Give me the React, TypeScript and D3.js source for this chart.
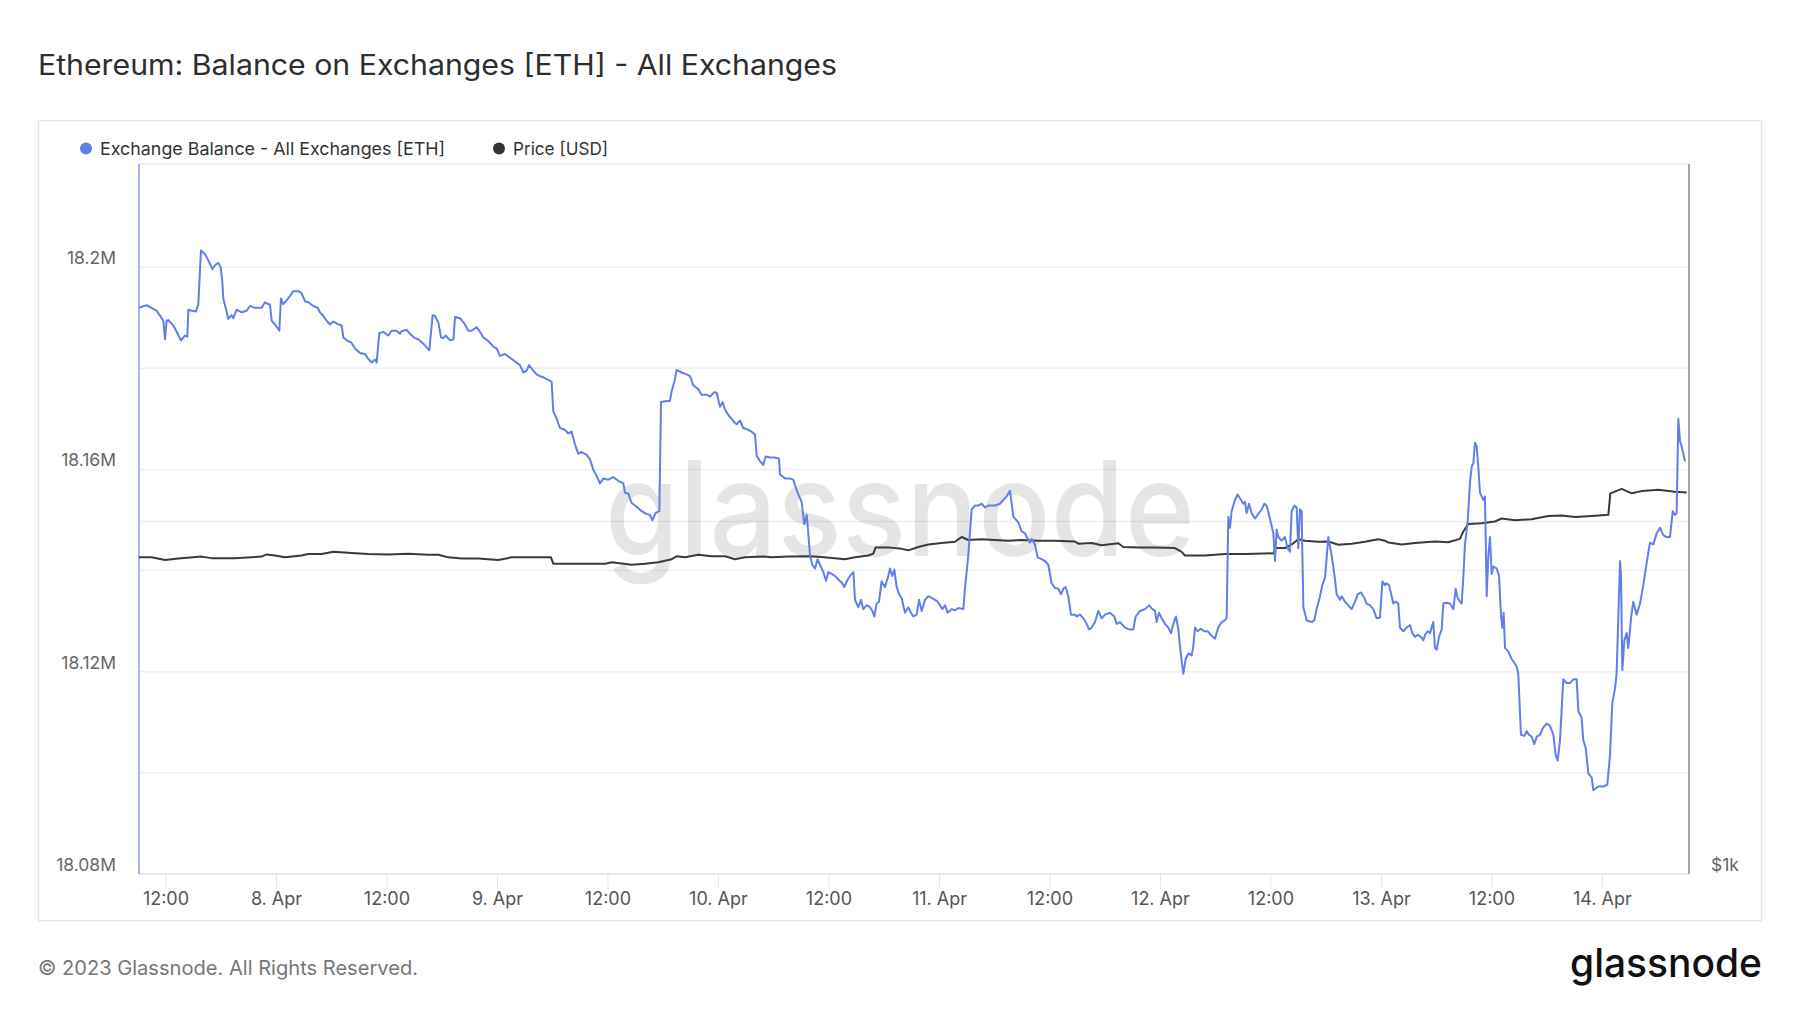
import React from "react";
import * as d3 from "d3";

const W = 1800;
const H = 1013;
const BASE = Date.UTC(2023, 3, 7); // 7 Apr 2023 00:00 UTC

// [hours since 7 Apr 00:00 UTC, exchange balance in thousand ETH]
const balance: [number, number][] = [
  [9.07, 18191.96], [9.9, 18192.47], [10.44, 18191.96], [10.99, 18191.37], [11.46, 18190.13], [11.71, 18189.4],
  [11.89, 18185.75], [12.07, 18189.4], [12.25, 18189.55], [12.8, 18188.45], [13.16, 18187.21], [13.63, 18185.53],
  [14.06, 18186.48], [14.32, 18186.26], [14.43, 18191.59], [14.79, 18191.37], [15.26, 18191.23], [15.51, 18192.69],
  [15.8, 18203.29], [16.24, 18202.56], [16.67, 18201.1], [17.03, 18199.63], [17.32, 18200.36], [17.68, 18200.88],
  [17.94, 18200.0], [18.12, 18197.08], [18.23, 18193.79], [18.48, 18191.96], [18.77, 18189.77], [19.13, 18190.5],
  [19.31, 18189.91], [19.67, 18191.59], [20.22, 18191.08], [20.76, 18191.37], [21.12, 18192.32], [21.67, 18191.96],
  [22.39, 18191.96], [22.75, 18193.06], [23.11, 18192.69], [23.29, 18192.69], [23.48, 18189.4], [23.84, 18188.67],
  [24.31, 18187.43], [24.49, 18193.79], [24.74, 18192.69], [25.1, 18193.42], [25.47, 18194.3], [25.83, 18195.25],
  [26.37, 18195.25], [26.73, 18194.88], [27.1, 18193.27], [27.46, 18193.06], [28.0, 18192.32], [28.47, 18191.96],
  [28.72, 18191.08], [29.09, 18190.35], [29.45, 18189.4], [29.81, 18188.67], [30.17, 18189.25], [30.72, 18188.67],
  [31.08, 18188.45], [31.26, 18186.11], [31.62, 18185.53], [32.16, 18185.01], [32.53, 18183.92], [33.07, 18183.04],
  [33.61, 18182.82], [33.97, 18181.87], [34.34, 18181.14], [34.7, 18181.72], [34.88, 18181.14], [35.17, 18186.99],
  [35.6, 18187.21], [36.15, 18186.48], [36.51, 18187.43], [37.05, 18187.43], [37.41, 18186.84], [37.59, 18187.35],
  [38.14, 18187.57], [38.5, 18186.84], [39.04, 18185.96], [39.4, 18185.75], [39.95, 18184.87], [40.6, 18183.55],
  [40.96, 18190.5], [41.21, 18190.35], [41.58, 18189.03], [41.87, 18186.11], [42.12, 18185.96], [42.37, 18186.48],
  [42.84, 18185.53], [43.21, 18185.67],
  [43.39, 18190.13], [43.93, 18189.91], [44.47, 18188.67], [44.83, 18187.43], [45.2, 18187.43], [45.74, 18188.16],
  [46.1, 18187.21], [46.46, 18186.11], [47.01, 18185.38], [47.55, 18184.28], [47.91, 18183.92], [48.27, 18182.46],
  [48.82, 18182.82], [49.36, 18182.09], [49.9, 18181.36], [50.44, 18180.63], [50.81, 18179.17], [51.17, 18179.53],
  [51.42, 18180.63], [51.89, 18179.53], [52.25, 18178.8], [52.62, 18178.44], [52.98, 18178.22], [53.52, 18177.7],
  [53.88, 18177.34], [54.06, 18171.49], [54.43, 18170.03], [54.79, 18168.2], [55.33, 18167.84], [55.69, 18167.11],
  [56.06, 18167.47], [56.42, 18164.91], [56.78, 18163.09], [57.14, 18163.45], [57.68, 18162.86], [58.05, 18161.99],
  [58.41, 18159.94], [58.77, 18158.7], [59.13, 18157.24], [59.49, 18158.19], [60.04, 18157.97], [60.58, 18158.48],
  [61.12, 18157.75], [61.67, 18157.24], [61.85, 18155.41], [62.21, 18155.26], [62.57, 18153.36], [63.11, 18152.63],
  [63.66, 18151.75], [64.2, 18151.17], [64.56, 18151.02], [64.82, 18149.93], [65.18, 18151.39], [65.58, 18151.75],
  [65.76, 18173.32], [66.37, 18173.54], [66.73, 18173.54], [66.92, 18175.51], [67.21, 18177.34], [67.46, 18179.68],
  [68.0, 18179.17], [68.54, 18178.8], [68.91, 18178.44], [69.27, 18176.61], [69.81, 18175.88], [70.17, 18174.78],
  [70.72, 18174.78], [71.08, 18174.41], [71.55, 18175.29], [71.8, 18175.15], [72.16, 18172.37], [72.45, 18173.32],
  [72.71, 18171.86], [73.07, 18170.76], [73.43, 18170.03], [73.72, 18169.3], [73.98, 18168.93], [74.34, 18169.66],
  [74.7, 18168.2], [75.24, 18167.84], [75.6, 18167.47], [75.97, 18166.89], [76.15, 18162.72], [76.51, 18161.62],
  [76.87, 18160.89],
  [77.12, 18162.57], [77.6, 18162.35], [78.14, 18162.35], [78.57, 18162.13], [78.68, 18159.06], [79.22, 18158.19],
  [79.77, 18158.19], [80.13, 18157.97], [80.38, 18156.5], [80.67, 18155.04], [81.03, 18153.58], [81.32, 18149.2],
  [81.58, 18151.02], [81.69, 18148.83], [81.94, 18142.98], [82.19, 18141.15], [82.48, 18140.42], [82.77, 18142.25],
  [83.03, 18141.15], [83.39, 18139.69], [83.68, 18137.99], [83.93, 18139.69], [84.29, 18139.33], [84.65, 18138.96],
  [85.02, 18138.23], [85.45, 18137.5], [85.67, 18136.77], [86.03, 18138.23], [86.39, 18139.18], [86.65, 18139.69],
  [86.83, 18134.21], [87.19, 18132.75], [87.48, 18134.21], [87.73, 18132.38], [88.09, 18133.12], [88.46, 18132.75],
  [88.71, 18132.02], [88.93, 18130.92], [89.18, 18133.48], [89.43, 18133.85], [89.72, 18137.86], [90.08, 18136.77],
  [90.45, 18138.96], [90.63, 18140.42], [90.88, 18138.96], [91.1, 18140.2], [91.35, 18136.77], [91.61, 18135.31],
  [91.89, 18134.58], [92.26, 18131.65], [92.62, 18132.75], [92.8, 18132.02], [93.16, 18130.92], [93.52, 18131.29],
  [93.78, 18134.21], [94.07, 18132.02], [94.43, 18134.21], [94.79, 18134.94], [95.15, 18134.58], [95.51, 18134.21],
  [95.8, 18133.85], [96.06, 18133.12], [96.31, 18132.38], [96.6, 18133.12], [96.89, 18131.65], [97.32, 18132.38],
  [97.69, 18132.16], [98.05, 18132.6], [98.59, 18132.38], [98.77, 18136.4], [99.13, 18142.98], [99.5, 18152.12],
  [99.86, 18152.85], [100.22, 18152.85], [100.58, 18153.22], [100.94, 18152.49], [101.31, 18152.85], [101.67, 18152.85],
  [102.03, 18152.85], [102.57, 18153.22], [102.94, 18153.95], [103.3, 18154.68], [103.66, 18155.77], [103.84, 18153.22],
  [104.02, 18150.66], [104.56, 18149.56], [104.93, 18147.73], [105.29, 18147.37], [105.47, 18146.64], [105.83, 18145.54],
  [106.01, 18146.27], [106.37, 18145.18], [106.66, 18142.62], [107.1, 18142.25], [107.46, 18141.89], [107.82, 18141.15],
  [108.18, 18137.5], [108.55, 18136.55], [108.91, 18136.4], [109.2, 18135.31], [109.45, 18136.4], [109.71, 18136.77],
  [109.99, 18134.94], [110.28, 18131.29], [110.72, 18131.29],
  [110.9, 18130.92], [111.26, 18131.29], [111.62, 18130.56], [111.99, 18129.46], [112.24, 18128.36], [112.53, 18128.73],
  [112.89, 18129.82], [113.25, 18132.02], [113.61, 18130.56], [113.98, 18131.29], [114.52, 18131.65], [114.99, 18130.92],
  [115.24, 18129.46], [115.61, 18129.82], [116.15, 18128.73], [116.58, 18128.36], [117.05, 18128.36], [117.31, 18130.92],
  [117.78, 18132.02], [118.32, 18132.38], [118.76, 18133.12], [119.12, 18132.38], [119.41, 18132.02], [119.59, 18129.82],
  [119.84, 18131.65], [120.13, 18130.56], [120.49, 18129.46], [120.85, 18128.73], [121.14, 18127.63], [121.4, 18129.46],
  [121.69, 18130.92], [121.94, 18128.36], [122.23, 18123.24], [122.48, 18119.59], [122.74, 18122.51], [123.03, 18123.61],
  [123.39, 18123.24], [123.57, 18125.07], [123.75, 18128.73], [124.04, 18128.0], [124.4, 18128.51], [124.76, 18128.0],
  [125.13, 18128.0], [125.49, 18127.27], [125.92, 18126.54], [126.28, 18128.73], [126.65, 18129.82], [127.01, 18130.19],
  [127.19, 18130.56], [127.37, 18150.66], [127.55, 18148.46], [127.73, 18151.75], [128.09, 18153.95], [128.38, 18155.04],
  [128.64, 18154.31], [129.0, 18153.22], [129.18, 18153.58], [129.36, 18151.39], [129.62, 18153.22], [129.9, 18151.39],
  [130.27, 18150.29], [130.56, 18151.02], [130.99, 18152.12], [131.28, 18153.22], [131.53, 18152.85], [131.79, 18151.02],
  [132.08, 18148.83], [132.26, 18147.37], [132.44, 18141.89], [132.62, 18148.1], [132.8, 18146.64], [133.16, 18145.91],
  [133.52, 18146.64], [133.81, 18144.44], [134.07, 18143.71], [134.25, 18151.75], [134.54, 18152.85], [134.79, 18152.49],
  [134.97, 18144.44], [135.15, 18152.12], [135.33, 18151.75], [135.52, 18132.75], [135.88, 18130.19], [136.42, 18129.82],
  [136.71, 18130.19], [136.96, 18132.38], [137.33, 18134.94], [137.58, 18137.13], [137.87, 18138.59], [138.23, 18146.64],
  [138.59, 18142.98], [138.88, 18139.33], [139.14, 18135.31], [139.5, 18134.21], [139.68, 18134.94], [140.04, 18133.85],
  [140.4, 18133.12], [140.77, 18132.38], [141.13, 18133.85], [141.42, 18135.31], [141.78, 18135.67], [142.14, 18134.58],
  [142.39, 18133.48], [142.76, 18133.12], [143.12, 18132.38], [143.48, 18130.56], [143.84, 18130.7], [144.1, 18137.86],
  [144.38, 18137.13],
  [144.57, 18137.5], [144.82, 18137.13], [145.11, 18134.94], [145.29, 18133.48], [145.54, 18133.85], [145.83, 18133.48],
  [146.01, 18128.73], [146.38, 18128.0], [146.74, 18128.73], [147.1, 18129.24], [147.35, 18127.63], [147.64, 18126.9],
  [147.93, 18127.27], [148.29, 18126.9], [148.55, 18126.17], [148.73, 18127.27], [149.02, 18128.0], [149.27, 18127.63],
  [149.63, 18129.82], [149.81, 18124.71], [150.0, 18124.34], [150.25, 18126.9], [150.54, 18128.36], [150.72, 18133.48],
  [151.08, 18133.63], [151.44, 18133.48], [151.81, 18132.38], [152.06, 18136.4], [152.28, 18134.58], [152.53, 18133.85],
  [152.71, 18133.48], [152.89, 18138.59], [153.07, 18145.18], [153.36, 18149.56], [153.62, 18157.6], [153.8, 18160.53],
  [153.98, 18161.26], [154.16, 18165.28], [154.34, 18164.55], [154.52, 18160.53], [154.7, 18155.41], [155.06, 18153.95],
  [155.24, 18154.68], [155.43, 18134.94], [155.61, 18142.98], [155.79, 18146.64], [155.97, 18139.33], [156.15, 18140.79],
  [156.51, 18140.42], [156.77, 18138.96], [156.98, 18131.29], [157.13, 18128.73], [157.27, 18131.65], [157.42, 18124.71],
  [157.78, 18123.97], [158.14, 18122.51], [158.43, 18121.78], [158.68, 18121.05], [158.86, 18119.59], [159.15, 18107.53],
  [159.52, 18107.31], [159.77, 18108.26], [160.02, 18107.53], [160.31, 18107.16], [160.6, 18105.7], [160.86, 18107.16],
  [161.22, 18107.53], [161.58, 18108.99], [161.94, 18109.72], [162.3, 18109.36], [162.67, 18107.53], [162.92, 18103.51],
  [163.14, 18102.41], [163.39, 18106.43], [163.75, 18118.49], [164.11, 18117.76], [164.48, 18117.76], [164.84, 18118.49],
  [165.2, 18118.49], [165.38, 18112.28], [165.74, 18110.82], [165.92, 18106.43], [166.18, 18104.97], [166.47, 18099.85],
  [166.83, 18099.12], [167.01, 18096.57], [167.55, 18097.3], [168.1, 18097.3], [168.53, 18097.66], [168.82, 18103.51],
  [169.07, 18113.74], [169.36, 18116.67], [169.54, 18119.59], [169.72, 18130.56], [169.91, 18141.89], [170.01, 18139.33],
  [170.16, 18120.32], [170.38, 18126.17], [170.63, 18127.63], [170.81, 18124.71], [171.1, 18130.56], [171.35, 18133.85],
  [171.72, 18131.29], [172.08, 18133.48], [172.44, 18137.13], [172.8, 18141.52], [173.16, 18145.54], [173.53, 18145.18],
  [173.89, 18147.37], [174.25, 18148.46], [174.61, 18147.0], [174.97, 18146.64], [175.34, 18146.64], [175.63, 18151.75],
  [175.88, 18151.02], [176.06, 18151.39], [176.24, 18170.03], [176.42, 18165.64], [176.6, 18164.55], [176.97, 18161.62],
];

// [hours since 7 Apr 00:00 UTC, price in USD]
const price: [number, number][] = [
  [9.07, 1898.2], [10.44, 1898.2], [11.89, 1890.8], [13.34, 1895.0], [15.87, 1900.3], [16.96, 1896.0],
  [19.49, 1896.0], [22.39, 1900.3], [22.93, 1906.6], [23.84, 1903.4], [24.92, 1898.2], [26.73, 1903.4],
  [27.46, 1907.6], [28.91, 1907.6], [30.17, 1913.9], [32.16, 1910.8], [33.97, 1907.6], [36.15, 1906.6],
  [38.32, 1908.7], [40.49, 1905.5], [41.58, 1905.5], [42.66, 1898.2],
  [44.11, 1895.0], [45.92, 1895.0], [48.09, 1890.8], [49.54, 1898.2], [51.71, 1898.2], [53.81, 1898.2],
  [54.06, 1880.3], [56.78, 1880.3], [59.68, 1880.3], [60.4, 1884.5], [62.57, 1877.2], [64.02, 1880.3],
  [65.47, 1884.5], [66.92, 1892.9], [67.46, 1901.3], [68.36, 1898.2], [69.81, 1905.5], [71.26, 1901.3],
  [72.71, 1901.3], [73.79, 1892.9], [74.88, 1898.2], [76.87, 1900.3],
  [77.78, 1898.2], [79.59, 1900.3], [81.76, 1901.3], [83.21, 1899.2], [85.74, 1892.9], [86.83, 1898.2],
  [88.27, 1903.4], [88.82, 1908.7], [89.07, 1926.5], [90.45, 1926.5], [91.89, 1922.3], [92.62, 1918.1],
  [93.7, 1927.6], [94.79, 1934.9], [96.24, 1939.1], [97.69, 1942.3], [98.41, 1955.9], [99.13, 1947.5],
  [100.58, 1949.6], [102.03, 1947.5], [103.48, 1945.4], [104.93, 1947.5], [106.74, 1945.4], [108.55, 1945.4],
  [110.72, 1943.3],
  [111.08, 1937.0], [112.53, 1939.1], [113.61, 1932.8], [115.42, 1938.1], [115.97, 1927.6], [117.6, 1926.5],
  [119.41, 1926.5], [121.58, 1924.4], [122.3, 1913.9], [122.66, 1903.4], [124.84, 1903.4], [127.01, 1907.6],
  [129.18, 1907.6], [132.26, 1909.7], [132.51, 1924.4], [133.52, 1924.4], [134.25, 1934.9], [134.97, 1949.6],
  [135.7, 1945.4], [137.15, 1942.3], [138.23, 1943.3], [139.32, 1933.9], [140.77, 1937.0], [142.21, 1942.3],
  [143.66, 1949.6], [144.38, 1945.4],
  [144.75, 1940.2], [146.19, 1934.9], [147.64, 1939.1], [149.81, 1943.3], [151.26, 1941.2], [152.53, 1950.7],
  [152.89, 1971.7], [153.43, 1992.7], [154.88, 1994.8], [156.33, 2000.0], [157.05, 2008.4], [158.5, 2003.2],
  [160.31, 2006.3], [162.12, 2015.8], [163.57, 2016.8], [165.02, 2012.6], [166.83, 2015.8], [168.64, 2018.9],
  [168.86, 2079.8], [170.09, 2092.4], [171.17, 2079.8], [172.26, 2086.1], [174.07, 2090.3], [175.88, 2084.0],
  [177.15, 2081.9],
];

const xDomainHours = [9.07, 177.4];
const balanceDomain = [18080, 18220.4];
const priceDomain = [1000, 3014];
const balanceGrid = [18100, 18120, 18140, 18160, 18180, 18200];
const balanceLabels = [18080, 18120, 18160, 18200];
const priceGrid = [2000];
const priceLabels = [1000];

const TITLE = "Ethereum: Balance on Exchanges [ETH] - All Exchanges";
const legendItems = [
  { label: "Exchange Balance - All Exchanges [ETH]", color: "#627eea", width: 345 },
  { label: "Price [USD]", color: "#333333", width: 95 },
];

const FONT = "Inter, 'Noto Sans', sans-serif";

export default function App() {
  const plot = { left: 139, right: 1689, top: 164, bottom: 874 };
  const t = (h: number) => new Date(BASE + h * 3600e3);
  const x = d3.scaleUtc().domain(xDomainHours.map(t)).range([plot.left, plot.right]);
  const yB = d3.scaleLinear().domain(balanceDomain).range([plot.bottom, plot.top]);
  const yP = d3.scaleLinear().domain(priceDomain).range([plot.bottom, plot.top]);
  const ticks = x.ticks(d3.utcHour.every(12) as any);
  const fmtDay = d3.utcFormat("%-d. %b");
  const fmtHour = d3.utcFormat("%H:%M");
  const fmt = (d: Date) => (d.getUTCHours() === 0 ? fmtDay(d) : fmtHour(d));
  const fmtB = (v: number) => `${d3.format(".4~f")(v / 1000)}M`;
  const fmtP = (v: number) => `$${v / 1000}k`;

  const lineB = d3.line<[number, number]>().x((d) => x(t(d[0]))).y((d) => yB(d[1]));
  const lineP = d3.line<[number, number]>().x((d) => x(t(d[0]))).y((d) => yP(d[1]));

  const legendX = [86, 499];

  return (
    <div style={{ position: "absolute", left: 0, top: 0, width: W, height: H, background: "#fff" }}>
      <svg width={W} height={H} viewBox={`0 0 ${W} ${H}`} style={{ display: "block", fontFamily: FONT }}>
        <rect x={0} y={0} width={W} height={H} fill="#ffffff" />
        <text x={38} y={75} fontSize={28} fontWeight={400} fill="#2e2e2e" textLength={799} lengthAdjust="spacingAndGlyphs">
          {TITLE}
        </text>
        <rect x={38.5} y={120.5} width={1723} height={800} fill="none" stroke="#e6e6e6" strokeWidth={1.5} />

        {legendItems.map((it, i) => (
          <g key={it.label}>
            <circle cx={legendX[i]} cy={148.5} r={6} fill={it.color} />
            <text x={legendX[i] + 14} y={154.5} fontSize={17.5} fill="#333333" textLength={it.width} lengthAdjust="spacingAndGlyphs">
              {it.label}
            </text>
          </g>
        ))}

        {/* grid */}
        {balanceGrid.map((v) => (
          <line key={v} x1={plot.left} x2={plot.right} y1={yB(v)} y2={yB(v)} stroke="#f0f0f0" strokeWidth={1.5} />
        ))}
        {priceGrid.map((v) => (
          <line key={"p" + v} x1={plot.left} x2={plot.right} y1={yP(v)} y2={yP(v)} stroke="#f0f0f0" strokeWidth={1.5} />
        ))}
        <line x1={plot.left} x2={plot.right} y1={plot.top} y2={plot.top} stroke="#e8e8e8" strokeWidth={1.5} />

        {/* watermark */}
        <text x={900} y={556} fontSize={132} fontWeight={500} fill="#000" fillOpacity={0.1} textAnchor="middle" textLength={590} lengthAdjust="spacingAndGlyphs">
          glassnode
        </text>

        {/* x ticks */}
        {ticks.map((d) => (
          <g key={+d}>
            <line x1={x(d)} x2={x(d)} y1={plot.bottom} y2={plot.bottom + 15} stroke="#e6e6e6" strokeWidth={1} />
            <text x={x(d)} y={905} fontSize={18} fill="#555555" textAnchor="middle">
              {fmt(d)}
            </text>
          </g>
        ))}
        <line x1={plot.left} x2={plot.right} y1={plot.bottom} y2={plot.bottom} stroke="#e0e0e0" strokeWidth={1.5} />

        {/* y labels */}
        {balanceLabels.map((v) => (
          <text key={v} x={116} y={yB(v) - 3} fontSize={17.5} fill="#666666" textAnchor="end">
            {fmtB(v)}
          </text>
        ))}
        {priceLabels.map((v) => (
          <text key={"pl" + v} x={1711} y={yP(v) - 3} fontSize={17.5} fill="#666666" textAnchor="start">
            {fmtP(v)}
          </text>
        ))}

        {/* axis lines */}
        <line x1={plot.left} x2={plot.left} y1={plot.top} y2={plot.bottom} stroke="#627eea" strokeOpacity={0.55} strokeWidth={2} />
        <line x1={plot.right} x2={plot.right} y1={plot.top} y2={plot.bottom} stroke="#8a8a8a" strokeWidth={1.5} />

        {/* series */}
        <path d={lineP(price) ?? ""} fill="none" stroke="#3a3a3a" strokeWidth={2} strokeLinejoin="round" />
        <path d={lineB(balance) ?? ""} fill="none" stroke="#627eea" strokeWidth={2} strokeLinejoin="round" />

        {/* footer */}
        <text x={38} y={975} fontSize={20} fill="#777777" textLength={380} lengthAdjust="spacingAndGlyphs">
          © 2023 Glassnode. All Rights Reserved.
        </text>
        <text x={1762} y={977} fontSize={40} fontWeight={500} fill="#111111" textAnchor="end" textLength={192} lengthAdjust="spacingAndGlyphs">
          glassnode
        </text>
      </svg>
    </div>
  );
}
